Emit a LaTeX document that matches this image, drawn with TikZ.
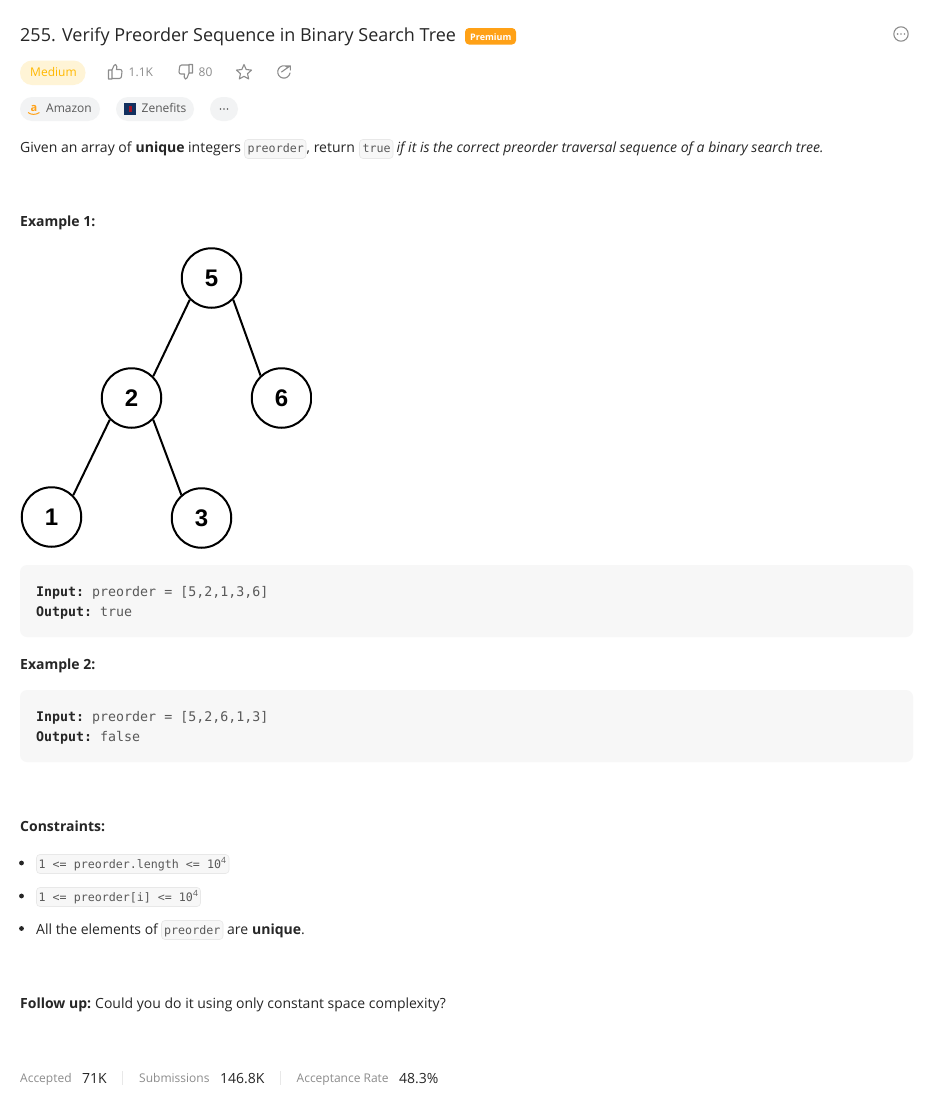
\documentclass[tikz,border=0pt]{standalone}
\usepackage{fontspec}
\setmainfont{Open Sans}
\setmonofont{DejaVu Sans Mono}
\newfontfamily\arialf{Liberation Sans}
\usetikzlibrary{shapes.geometric}
\definecolor{ink}{HTML}{262626}
\definecolor{soft}{HTML}{8C8C8C}
\definecolor{mid}{HTML}{595959}
\definecolor{pill}{HTML}{F2F3F4}
\definecolor{codebg}{HTML}{F7F7F7}
\definecolor{codeln}{HTML}{E8E8E8}
\definecolor{amber}{HTML}{FFB800}
\definecolor{amberbg}{HTML}{FFF4D6}
\definecolor{brand}{HTML}{FFA116}
\definecolor{navy}{HTML}{12305F}
\newcommand{\fs}[1]{\fontsize{#1}{#1}\selectfont}
\tikzset{
  x=1pt,y=-1pt,
  txt/.style={anchor=base west,inner sep=0pt,text=ink,font=\fs{14}},
  boldt/.style={txt,font=\fs{14}\bfseries},
  ital/.style={txt,font=\fs{14}\itshape},
  meta/.style={txt,text=mid,font=\fs{12}},
  gray/.style={txt,text=soft,font=\fs{12}},
  mono/.style={txt,text=mid,font=\fs{13.3}\ttfamily},
  monob/.style={txt,font=\fs{13.3}\ttfamily\bfseries},
  inl/.style={txt,text=mid,font=\fs{11.65}\ttfamily},
  codebox/.style={fill=codebg,draw=codeln,line width=.6pt,rounded corners=3.5pt},
  block/.style={fill=codebg,rounded corners=7pt},
  icon/.style={draw=soft,line width=1.1pt,line join=round,line cap=round},
  tree/.style={circle,draw=black,line width=2pt,minimum size=59.5pt,inner sep=0pt,font=\arialf\fs{24}\bfseries,text=black,fill=white},
  edge/.style={draw=black,line width=2pt}
}
\begin{document}
\begin{tikzpicture}
\useasboundingbox (0,0) rectangle (933,1101);
\fill[white] (0,0) rectangle (933,1101);
% title
\node[txt,font=\fs{18}] (title) at (20,41) {255. Verify Preorder Sequence in Binary Search Tree};
\fill[brand,rounded corners=4pt] (465,28) rectangle (516,44.5);
\node[txt,text=white,font=\fs{9}\bfseries] (prem) at (470,40) {Premium};
\draw[icon] (901,34) circle (7.2);
\fill[soft] (897.6,34) circle (.9) (901,34) circle (.9) (904.4,34) circle (.9);
% meta row
\fill[amberbg,rounded corners=12pt] (20,60.5) rectangle (85.5,85);
\node[txt,text=amber,font=\fs{12}] (med) at (30,76) {Medium};
\draw[icon] (108.5,70) rectangle (112,79) (112,78.5) -- (119.5,78.5) .. controls (121,78.5) and (121.5,77) .. (121.5,76) -- (122,71.5) .. controls (122,70) and (121,69.5) .. (120,69.5) -- (116.5,69.5) -- (116.8,66.5) .. controls (116.8,64.5) and (114.5,63.5) .. (114,65.5) -- (112,70);
\node[gray] (likes) at (128.5,76) {1.1K};
\draw[icon] (192.5,73) rectangle (189,64.5) (189,65) -- (181.5,65) .. controls (180,65) and (179.5,66.5) .. (179.5,67.5) -- (179,72) .. controls (179,73.5) and (180,74) .. (181,74) -- (184.5,74) -- (184.2,77) .. controls (184.2,79) and (186.5,80) .. (187,78) -- (189,73);
\node[gray] (dis) at (198.5,76) {80};
\draw[icon] (244,64.5) -- (246.2,69.5) -- (251.5,70.1) -- (247.5,73.7) -- (248.7,79) -- (244,76.3) -- (239.3,79) -- (240.5,73.7) -- (236.5,70.1) -- (241.8,69.5) -- cycle;
\draw[icon] (290,73) arc[start angle=10,end angle=310,radius=6.2] (281.5,72) -- (290,66) (286,65.8) -- (290.3,65.8) -- (290.3,70);
% tags
\fill[pill,rounded corners=12pt] (20,97) rectangle (100,121);
\node[txt,text=brand,font=\fs{11}\bfseries] (az) at (30.5,111) {a};
\draw[brand,line width=1pt] (28,112.5) .. controls (31,115) and (36,115) .. (39.5,112.5);
\node[meta] (amazon) at (46,112) {Amazon};
\fill[pill,rounded corners=12pt] (116,97) rectangle (194,121);
\fill[navy] (124,103) rectangle (136,114.5);
\fill[red!60!navy] (128.5,106) rectangle (131.5,111.5);
\node[meta] (zen) at (141.5,112) {Zenefits};
\fill[pill,rounded corners=12pt] (210,97) rectangle (238,121);
\fill[mid] (220.5,109) circle (.9) (224,109) circle (.9) (227.5,109) circle (.9);
% intro
\node[txt] (i1) at (20,152) {Given an array of};
\node[boldt] (i2) at (135.5,152) {unique};
\node[txt] (i3) at (188,152) {integers};
\draw[codebox] (244.5,139.5) rectangle (306,158.5);
\node[inl] (i4) at (247.5,152) {preorder};
\node[txt] (i5) at (306.5,152) {, return};
\draw[codebox] (359.5,139.5) rectangle (393,158.5);
\node[inl] (i6) at (362.5,152) {true};
\node[ital] (i7) at (396.5,152) {if it is the correct preorder traversal sequence of a binary search tree.};
\node[boldt] (ex1) at (20,226) {Example 1:};
% tree
\node[tree] (n5) at (211.5,278) {\raisebox{-1pt}{5}};
\node[tree] (n2) at (131.5,398) {\raisebox{-.5pt}{2}};
\node[tree] (n6) at (281.5,398) {\raisebox{-.5pt}{6}};
\node[tree] (n1) at (51.5,517) {\raisebox{-.5pt}{1}};
\node[tree] (n3) at (201.5,518) {\raisebox{-.5pt}{3}};
\draw[edge] (n5.225) -- (n2.45);
\draw[edge] (n5.-45) -- (n6.133);
\draw[edge] (n2.225) -- (n1.45);
\draw[edge] (n2.-45) -- (n3.131);
\fill[white] (311.5,360) rectangle (320,440);
% example blocks
\fill[block] (20,565) rectangle (913,637);
\node[monob] (a1) at (36,596) {Input:};
\node[mono] (a2) at (92,596) {preorder = [5,2,1,3,6]};
\node[monob] (a3) at (36,616) {Output:};
\node[mono] (a4) at (100,616) {true};
\node[boldt] (ex2) at (20,669) {Example 2:};
\fill[block] (20,690) rectangle (913,762);
\node[monob] (b1) at (36,721) {Input:};
\node[mono] (b2) at (92,721) {preorder = [5,2,6,1,3]};
\node[monob] (b3) at (36,741) {Output:};
\node[mono] (b4) at (100,741) {false};
% constraints
\node[boldt] (con) at (20,831) {Constraints:};
\fill[ink] (21.5,863) circle (2.4) (21.5,896) circle (2.4) (21.5,928.5) circle (2.4);
\draw[codebox] (36.5,854.5) rectangle (229,873.5);
\node[inl] (c1) at (38.5,868) {1 <= preorder.length <= 10\raisebox{4.5pt}{\rmfamily\fs{8.5}4}};
\draw[codebox] (36.5,887.5) rectangle (200.5,906.5);
\node[inl] (c2) at (38.5,901) {1 <= preorder[i] <= 10\raisebox{4.5pt}{\rmfamily\fs{8.5}4}};
\node[txt] (c3) at (36,934) {All the elements of};
\draw[codebox] (161.5,920.5) rectangle (223,939.5);
\node[inl] (c4) at (164,934) {preorder};
\node[txt] (c5) at (227,934) {are};
\node[boldt] (c6) at (252,934) {unique};
\node[txt] (c7) at (301,934) {.};
% follow up
\node[boldt] (f1) at (20,1008) {Follow up:};
\node[txt] (f2) at (95,1008) {Could you do it using only constant space complexity?};
% footer
\node[meta,text=soft] (s1) at (20,1082) {Accepted};
\node[txt] (s2) at (82,1083) {71K};
\draw[codeln,line width=.8pt] (122.5,1071) -- (122.5,1085);
\node[meta,text=soft] (s3) at (139,1082) {Submissions};
\node[txt] (s4) at (220,1083) {146.8K};
\draw[codeln,line width=.8pt] (280.5,1071) -- (280.5,1085);
\node[meta,text=soft] (s5) at (296.5,1082) {Acceptance Rate};
\node[txt] (s6) at (399,1083) {48.3\%};
\end{tikzpicture}
\end{document}
